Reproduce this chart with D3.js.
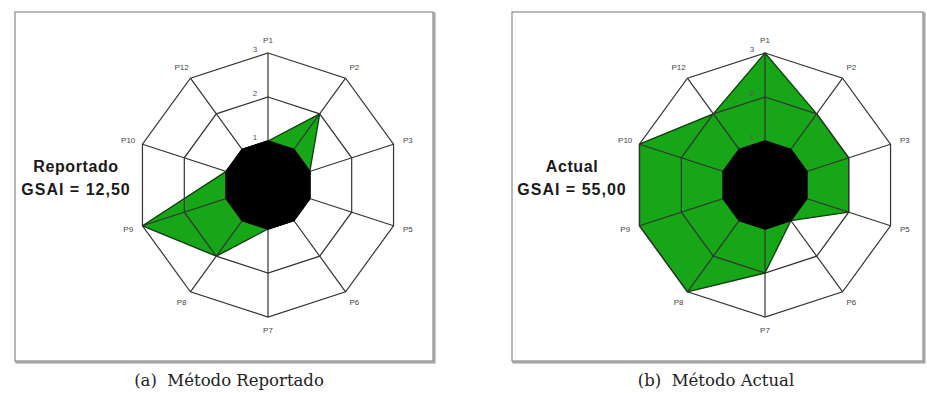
<!DOCTYPE html>
<html>
<head>
<meta charset="utf-8">
<script src="https://cdn.jsdelivr.net/npm/d3@7"></script>
<style>
  html, body { margin: 0; padding: 0; background: #fff; }
  svg { display: block; }
</style>
</head>
<body>
<svg id="chart" width="927" height="393"></svg>
<script>
// Parameters on the radar axes (clockwise from the top)
const axes = ["P1", "P2", "P3", "P5", "P6", "P7", "P8", "P9", "P10", "P12"];
// Scores per parameter for each method
const reportado = [1, 2, 1, 1, 1, 1, 2, 3, 1, 1];
const actual    = [3, 2, 2, 2, 1, 2, 3, 3, 3, 2];
// Grid levels and the solid core level
const levels = [1, 2, 3];
const coreLevel = 1;
// Panel texts
const panelNames = ["Reportado", "Actual"];
const gsaiValues = ["12,50", "55,00"];
const captions = ["(a)  Método Reportado", "(b)  Método Actual"];

const svg = d3.select("#chart");
const R = 132;
const r = d3.scaleLinear().domain([0, 3]).range([0, R]);
const angle = d3.scaleLinear().domain([0, axes.length]).range([0, 2 * Math.PI]);

const radial = d3.lineRadial()
  .angle((d, i) => angle(i))
  .radius(d => r(d))
  .curve(d3.curveLinearClosed);

const panels = [
  { frame: [15, 12, 418, 349], cx: 268, cy: 185, values: reportado, textX: 76, capX: 229 },
  { frame: [512, 12, 411, 349], cx: 765, cy: 185, values: actual, textX: 572, capX: 716 }
];

panels.forEach((p, k) => {
  const [fx, fy, fw, fh] = p.frame;
  // frame with a soft drop edge
  svg.append("rect")
    .attr("x", fx + 1.5).attr("y", fy + 1.5).attr("width", fw).attr("height", fh)
    .attr("fill", "none").attr("stroke", "#a8a8a8").attr("stroke-width", 2.2);
  svg.append("rect")
    .attr("x", fx).attr("y", fy).attr("width", fw).attr("height", fh)
    .attr("fill", "#fff").attr("stroke", "#8a8a8a").attr("stroke-width", 1.2);

  const g = svg.append("g").attr("transform", `translate(${p.cx},${p.cy})`);

  // score polygon
  g.append("path")
    .datum(p.values)
    .attr("d", radial)
    .attr("fill", "#17a617")
    .attr("stroke", "#0b3d0b")
    .attr("stroke-width", 1.3)
    .attr("stroke-linejoin", "round");

  // rings
  levels.forEach(l => {
    g.append("path")
      .datum(axes.map(() => l))
      .attr("d", radial)
      .attr("fill", "none")
      .attr("stroke", "#333")
      .attr("stroke-width", 1.2);
  });

  // spokes
  g.selectAll("line.spoke")
    .data(axes)
    .join("line")
    .attr("class", "spoke")
    .attr("x1", 0).attr("y1", 0)
    .attr("x2", (d, i) => r(3) * Math.sin(angle(i)))
    .attr("y2", (d, i) => -r(3) * Math.cos(angle(i)))
    .attr("stroke", "#333")
    .attr("stroke-width", 1.2);

  // solid core
  g.append("path")
    .datum(axes.map(() => coreLevel))
    .attr("d", radial)
    .attr("fill", "#000")
    .attr("stroke", "#000")
    .attr("stroke-width", 1.5)
    .attr("stroke-linejoin", "round");

  // ring values along the first axis
  g.selectAll("text.lvl")
    .data(levels)
    .join("text")
    .attr("class", "lvl")
    .attr("x", -13)
    .attr("y", d => -r(d) - 1)
    .attr("text-anchor", "middle")
    .attr("font-family", "Liberation Sans, Arial, sans-serif")
    .attr("font-size", 8)
    .attr("fill", "#555")
    .text(d => d);

  // axis names
  g.selectAll("text.ax")
    .data(axes)
    .join("text")
    .attr("class", "ax")
    .attr("x", (d, i) => (R + 15) * Math.sin(angle(i)))
    .attr("y", (d, i) => -(R + 13) * Math.cos(angle(i)))
    .attr("text-anchor", "middle")
    .attr("dominant-baseline", "central")
    .attr("font-family", "Liberation Sans, Arial, sans-serif")
    .attr("font-size", 8)
    .attr("fill", "#444")
    .text(d => d);

  // method name and score
  svg.append("text")
    .attr("x", p.textX).attr("y", 172)
    .attr("text-anchor", "middle")
    .attr("font-family", "Liberation Sans, Arial, sans-serif")
    .attr("font-weight", "bold")
    .attr("font-size", 16)
    .attr("letter-spacing", 0.6)
    .attr("fill", "#1a1a1a")
    .text(panelNames[k]);
  svg.append("text")
    .attr("x", p.textX).attr("y", 195)
    .attr("text-anchor", "middle")
    .attr("font-family", "Liberation Sans, Arial, sans-serif")
    .attr("font-weight", "bold")
    .attr("font-size", 16)
    .attr("letter-spacing", 1)
    .attr("fill", "#1a1a1a")
    .text(`GSAI = ${gsaiValues[k]}`);

  // caption
  svg.append("text")
    .attr("x", p.capX).attr("y", 386)
    .attr("text-anchor", "middle")
    .attr("font-family", "DejaVu Serif, serif")
    .attr("font-size", 16.5)
    .attr("fill", "#222")
    .attr("xml:space", "preserve")
    .style("white-space", "pre")
    .text(captions[k]);
});
</script>
</body>
</html>
